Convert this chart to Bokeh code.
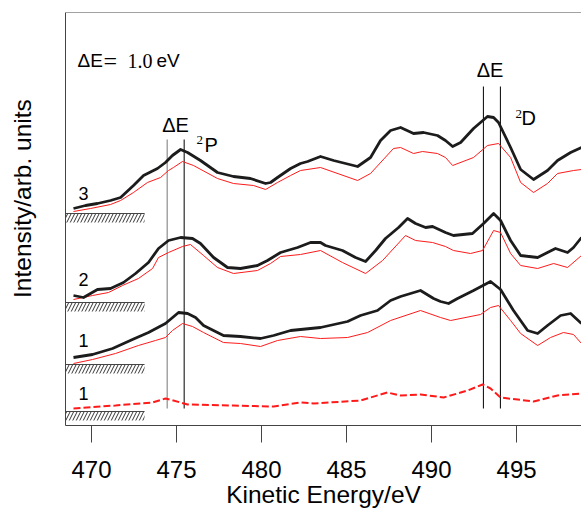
from bokeh.plotting import figure
from bokeh.models import Span, FixedTicker
from bokeh.core.properties import value
from bokeh.embed import file_html
from bokeh.resources import INLINE

SANS = "Liberation Sans"
SERIF = "Liberation Serif"

# ---------------- data (kinetic energy in eV, intensity in arb. units) ----------------
s3_black_x = [468.94, 469.65, 470.35, 471.12, 471.71, 472.47, 473.06, 473.88, 474.35, 474.76, 475.24, 475.65,
              476.41, 477.41, 478.35, 479.35, 480.24, 480.53, 480.94, 481.71, 482.29, 482.71, 483.47, 484.24,
              485.65, 486.41, 487.0, 487.59, 488.18, 488.94, 489.53, 490.35, 490.82, 491.24, 491.71, 492.47,
              493.29, 493.65, 493.94, 494.65, 495.24, 496.0, 496.82, 497.41, 498.18, 498.82]
s3_black_y = [217, 220, 222, 225, 228, 240, 250, 257, 263, 270, 276, 273,
              265, 253, 249, 247, 242, 243, 248, 257, 262, 264, 269, 265,
              259, 268, 285, 295, 298, 292, 293, 290, 285, 279, 283, 297,
              309, 308, 303, 278, 256, 246, 255, 265, 273, 278]

s3_red_x = [468.94, 469.94, 471.12, 471.71, 472.47, 473.29, 474.06, 474.53, 474.82, 475.35, 476.0, 477.41,
            478.35, 479.53, 480.24, 480.94, 481.71, 482.29, 483.47, 485.65, 486.41, 487.76, 488.18, 488.94,
            489.47, 490.35, 490.82, 491.24, 492.47, 493.29, 493.94, 494.65, 495.24, 496.0, 496.82, 497.41,
            498.35, 498.82]
s3_red_y = [214, 217, 221, 225, 233, 243, 248, 255, 258, 264, 260, 247,
            242, 240, 236, 243, 250, 255, 258, 245, 252, 277, 278, 272,
            274, 272, 268, 260, 268, 280, 282, 268, 243, 233, 242, 252,
            255, 256]

s2_black_x = [468.94, 469.53, 470.35, 471.12, 471.88, 472.59, 473.35, 473.94, 474.53, 475.24, 475.94, 476.41,
              477.18, 478.0, 478.76, 479.76, 480.35, 481.12, 482.12, 482.88, 483.47, 483.76, 484.76, 485.53,
              486.12, 486.71, 487.29, 488.06, 488.59, 489.06, 489.65, 490.06, 490.82, 491.29, 492.41, 493.06,
              493.65, 494.06, 494.65, 495.24, 496.24, 496.82, 497.29, 498.0, 498.35, 498.82]
s2_black_y = [130, 128, 136, 137, 143, 152, 163, 177, 185, 188, 187, 182,
              168, 158, 157, 160, 165, 173, 178, 183, 183, 180, 175, 168,
              164, 175, 187, 198, 207, 202, 198, 199, 193, 190, 192, 202,
              212, 205, 185, 170, 168, 173, 177, 173, 178, 188]

s2_red_x = [468.94, 470.06, 471.0, 471.82, 472.76, 473.59, 473.94, 474.53, 475.35, 475.82, 476.59, 477.41,
            478.35, 479.76, 480.53, 481.12, 482.29, 483.47, 484.76, 486.12, 487.12, 488.47, 489.06, 490.06,
            490.82, 491.29, 492.29, 493.0, 493.65, 494.06, 494.65, 495.24, 496.24, 497.18, 498.0, 498.82]
s2_red_y = [126, 130, 133, 140, 147, 157, 168, 173, 179, 181, 170, 158,
            152, 155, 162, 169, 171, 175, 163, 152, 165, 190, 185, 183,
            179, 175, 172, 175, 195, 193, 172, 160, 157, 162, 158, 170]

s1_black_x = [468.94, 470.06, 471.24, 472.41, 473.35, 474.35, 475.12, 475.65, 476.12, 476.59, 477.76, 478.76,
              479.94, 480.71, 481.71, 482.88, 483.47, 485.06, 485.82, 486.82, 487.59, 488.18, 489.35, 490.12,
              490.53, 491.0, 491.53, 492.47, 493.47, 494.06, 494.82, 495.65, 496.24, 496.82, 497.59, 498.18,
              498.82]
s1_black_y = [68, 71, 77, 86, 93, 102, 113, 112, 108, 100, 90, 89,
              87, 90, 95, 97, 98, 104, 110, 115, 125, 129, 135, 127,
              124, 122, 127, 135, 144, 136, 115, 95, 92, 100, 110, 112,
              102]

s1_red_x = [468.94, 470.06, 471.41, 472.76, 473.76, 474.35, 474.76, 475.35, 475.94, 476.59, 477.76, 478.76,
            479.94, 480.94, 482.29, 483.47, 485.06, 486.24, 487.59, 489.35, 490.53, 491.12, 492.88, 493.47,
            493.94, 494.65, 495.24, 496.24, 497.0, 497.76, 498.35, 498.82]
s1_red_y = [62, 66, 72, 80, 85, 88, 95, 102, 99, 93, 83, 82,
            79, 85, 89, 87, 88, 93, 105, 115, 108, 105, 111, 118,
            120, 105, 92, 80, 88, 93, 91, 82]

s0_x = [468.94, 471.41, 473.59, 474.35, 475.24, 475.65, 478.35, 480.71, 482.29, 483.06, 485.82, 487.41,
        488.18, 489.35, 490.71, 492.12, 493.0, 493.47, 494.06, 496.0, 497.41, 498.82]
s0_y = [17, 20, 23, 27, 23, 21, 20, 19, 23, 22, 25, 33,
        30, 31, 28, 35, 41, 37, 28, 24, 30, 32]

# baselines (zero levels) of each spectrum and their labels
baseline_y = [212, 123, 61, 14]
baseline_labels = ["3", "2", "1", "1"]
label_y = [232, 146, 85, 32]

# resolution (Delta E) markers
marker_x = [474.45, 475.45, 493.05, 494.05]
marker_top = [286, 286, 339, 339]
marker_bottom = [17, 17, 17, 17]

x_ticks = [470, 475, 480, 485, 490, 495]

# ---------------- figure ----------------
X0, X1 = 468.47, 498.82
Y0, Y1 = 0, 413

p = figure(width=581, height=512, x_range=(X0, X1), y_range=(Y0, Y1),
           output_backend="svg", toolbar_location=None,
           min_border_left=65, min_border_right=0, min_border_top=12, min_border_bottom=87)
p.background_fill_color = "white"
p.border_fill_color = "white"
p.outline_line_color = None
p.grid.visible = False

AX = "#444444"
p.xaxis.ticker = FixedTicker(ticks=x_ticks)
p.xaxis.axis_line_color = AX
p.xaxis.major_tick_line_color = AX
p.xaxis.major_tick_out = 17
p.xaxis.major_tick_in = 0
p.xaxis.minor_tick_line_color = None
p.xaxis.major_label_text_font = SANS
p.xaxis.major_label_text_font_size = "24px"
p.xaxis.major_label_text_color = "black"
p.xaxis.major_label_standoff = 18
p.xaxis.axis_label = "Kinetic Energy/eV"
p.xaxis.axis_label_text_font = SANS
p.xaxis.axis_label_text_font_size = "24.5px"
p.xaxis.axis_label_text_font_style = "normal"
p.xaxis.axis_label_text_color = "black"
p.xaxis.axis_label_standoff = 0

p.yaxis.ticker = FixedTicker(ticks=[])
p.yaxis.axis_line_color = AX
p.yaxis.major_tick_line_color = None
p.yaxis.major_tick_out = 0
p.yaxis.major_tick_in = 0
p.yaxis.minor_tick_line_color = None
p.yaxis.minor_tick_out = 0
p.yaxis.major_label_text_font_size = "0px"
p.yaxis.major_label_standoff = 0
# leading no-break spaces lift the centred title to where the original sits
p.yaxis.axis_label = "\u00a0" * 6 + "Intensity/arb. units"
p.yaxis.axis_label_text_font = SANS
p.yaxis.axis_label_text_font_size = "24.5px"
p.yaxis.axis_label_text_font_style = "normal"
p.yaxis.axis_label_text_color = "black"
p.yaxis.axis_label_standoff = 30

p.add_layout(Span(location=Y1, dimension="width", line_color=AX, line_width=1))

# hatched zero-level markers
hatch_left, hatch_right = X0, 473.12
p.quad(left=[hatch_left] * 4, right=[hatch_right] * 4, top=baseline_y,
       bottom=[b - 9 for b in baseline_y], fill_color=None, line_color=None,
       hatch_pattern="/", hatch_color="#333333", hatch_scale=7, hatch_weight=1)
p.segment(x0=[hatch_left] * 4, x1=[hatch_right] * 4, y0=baseline_y, y1=baseline_y,
          line_color=AX, line_width=1)

# Delta E markers
p.segment(x0=marker_x, x1=marker_x, y0=marker_bottom, y1=marker_top,
          line_color=["#777777", "black", "black", "black"], line_width=1)

# spectra
RED = "#ff1a1a"
BLK = "#1c1c1c"
for xs, ys in [(s3_red_x, s3_red_y), (s2_red_x, s2_red_y), (s1_red_x, s1_red_y)]:
    p.line(xs, ys, line_color=RED, line_width=1)
for xs, ys in [(s3_black_x, s3_black_y), (s2_black_x, s2_black_y), (s1_black_x, s1_black_y)]:
    p.line(xs, ys, line_color=BLK, line_width=2.8, line_join="round")
p.line(s0_x, s0_y, line_color=RED, line_width=2, line_dash="7 3")

# spectrum numbers
p.text(x=[469.53] * 4, y=label_y, text=baseline_labels, text_font=value(SANS),
       text_font_size="18px", text_align="center", text_baseline="middle", text_color="black")

# annotations
def txt(x, y, s, font, size, align="left"):
    p.text(x=[x], y=[y], text=[s], text_font=value(font), text_font_size=size,
           text_align=align, text_baseline="middle", text_color="black")

txt(469.18, 365, "ΔE", SANS, "19px")
txt(470.71, 365, "=", SERIF, "24px")
txt(472.12, 365, "1.0", SERIF, "20px")
txt(473.82, 365, "eV", SANS, "19px")

txt(474.94, 301, "ΔE", SANS, "20px", "center")
txt(476.18, 286, "2", SERIF, "13px")
txt(476.65, 281, "P", SANS, "20px")

txt(493.44, 356, "ΔE", SANS, "20px", "center")
txt(494.94, 312, "2", SERIF, "13px")
txt(495.29, 308, "D", SANS, "20px")

open("out.html", "w").write(file_html(p, INLINE))
